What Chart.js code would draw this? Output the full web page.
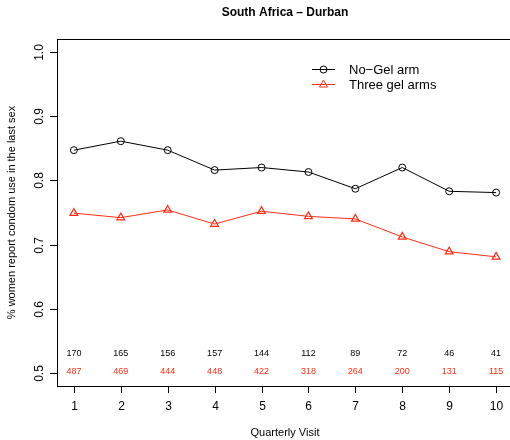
<!DOCTYPE html>
<html>
<head>
<meta charset="utf-8">
<script src="https://cdn.jsdelivr.net/npm/chart.js@4"></script>
<style>
  html, body { margin: 0; padding: 0; background: #fff; overflow: hidden; }
  #wrap { width: 520px; height: 440px; }
</style>
</head>
<body>
<div id="wrap"><canvas id="chart" width="520" height="440"></canvas></div>
<script>
// visits on the x axis
const visits = [1, 2, 3, 4, 5, 6, 7, 8, 9, 10];
// proportion reporting condom use
const noGel = [0.847, 0.861, 0.847, 0.816, 0.820, 0.813, 0.787, 0.820, 0.783, 0.781];
const threeGel = [0.749, 0.742, 0.754, 0.732, 0.752, 0.744, 0.740, 0.712, 0.689, 0.681];
// sample sizes printed near the bottom
const nNoGel = [170, 165, 156, 157, 144, 112, 89, 72, 46, 41];
const nThreeGel = [487, 469, 444, 448, 422, 318, 264, 200, 131, 115];
// axis ticks
const xTicks = [1, 2, 3, 4, 5, 6, 7, 8, 9, 10];
const yTicks = [0.5, 0.6, 0.7, 0.8, 0.9, 1.0];

const RED = 'rgb(255,45,20)';
const FONT = '"Liberation Sans", Arial, sans-serif';

// R-style axes, box, labels, legend and counts
const rAxes = {
  id: 'rAxes',
  afterDraw(chart) {
    const ctx = chart.ctx;
    const a = chart.chartArea;
    const xs = chart.scales.x, ys = chart.scales.y;
    ctx.save();
    ctx.strokeStyle = '#000';
    ctx.lineWidth = 1;
    ctx.strokeRect(Math.round(a.left) + 0.5, Math.round(a.top) + 0.5,
      Math.round(a.right - a.left), Math.round(a.bottom - a.top));

    ctx.fillStyle = '#000';
    // x ticks
    ctx.font = '12px ' + FONT;
    ctx.textAlign = 'center';
    ctx.textBaseline = 'middle';
    xTicks.forEach(v => {
      const px = Math.round(xs.getPixelForValue(v)) + 0.5;
      ctx.beginPath();
      ctx.moveTo(px, a.bottom);
      ctx.lineTo(px, a.bottom + 7);
      ctx.stroke();
      ctx.fillText(String(v), px, a.bottom + 21);
    });
    // y ticks, labels rotated like R
    yTicks.forEach(v => {
      const py = Math.round(ys.getPixelForValue(v)) + 0.5;
      ctx.beginPath();
      ctx.moveTo(a.left, py);
      ctx.lineTo(a.left - 7, py);
      ctx.stroke();
      ctx.save();
      ctx.translate(a.left - 17, py);
      ctx.rotate(-Math.PI / 2);
      ctx.fillText(v.toFixed(1), 0, 0);
      ctx.restore();
    });

    // axis titles
    ctx.font = '11px ' + FONT;
    ctx.fillText('Quarterly Visit', (a.left + a.right) / 2, 433);
    ctx.save();
    ctx.translate(12, (a.top + a.bottom) / 2);
    ctx.rotate(-Math.PI / 2);
    ctx.fillText('% women report condom use in the last sex', 0, 0);
    ctx.restore();

    // main title
    ctx.font = 'bold 12px ' + FONT;
    ctx.fillText('South Africa \u2013 Durban', (a.left + a.right) / 2, 13);

    // counts
    ctx.font = '9px ' + FONT;
    visits.forEach((v, i) => {
      const px = xs.getPixelForValue(v);
      ctx.fillStyle = '#000';
      ctx.fillText(String(nNoGel[i]), px, ys.getPixelForValue(0.530));
      ctx.fillStyle = RED;
      ctx.fillText(String(nThreeGel[i]), px, ys.getPixelForValue(0.502));
    });

    // legend
    ctx.font = '13px ' + FONT;
    ctx.textAlign = 'left';
    const rows = [
      { label: 'No\u2212Gel arm', color: '#000', y: 69, shape: 'circle' },
      { label: 'Three gel arms', color: RED, y: 84, shape: 'triangle' }
    ];
    rows.forEach(r => {
      ctx.strokeStyle = r.color;
      ctx.beginPath();
      ctx.moveTo(312, r.y + 0.5);
      ctx.lineTo(335, r.y + 0.5);
      ctx.stroke();
      ctx.beginPath();
      if (r.shape === 'circle') {
        ctx.arc(323.5, r.y + 0.5, 3.5, 0, Math.PI * 2);
      } else {
        ctx.moveTo(323.5, r.y - 4);
        ctx.lineTo(327.5, r.y + 3);
        ctx.lineTo(319.5, r.y + 3);
        ctx.closePath();
      }
      ctx.stroke();
      ctx.fillStyle = '#000';
      ctx.fillText(r.label, 349, r.y + 1);
    });
    ctx.restore();
  }
};

new Chart(document.getElementById('chart'), {
  type: 'line',
  data: {
    labels: visits,
    datasets: [
      {
        label: 'No-Gel arm',
        data: visits.map((v, i) => ({ x: v, y: noGel[i] })),
        borderColor: '#000',
        borderWidth: 1,
        pointStyle: 'circle',
        pointRadius: 3.5,
        pointBorderWidth: 1,
        pointBorderColor: '#000',
        pointBackgroundColor: 'rgba(0,0,0,0)',
        tension: 0
      },
      {
        label: 'Three gel arms',
        data: visits.map((v, i) => ({ x: v, y: threeGel[i] })),
        borderColor: RED,
        borderWidth: 1,
        pointStyle: 'triangle',
        pointRadius: 4.5,
        pointBorderWidth: 1.2,
        pointBorderColor: RED,
        pointBackgroundColor: 'rgba(0,0,0,0)',
        tension: 0
      }
    ]
  },
  options: {
    responsive: false,
    animation: false,
    layout: { padding: { left: 57, top: 39, right: 7, bottom: 54 } },
    plugins: { legend: { display: false }, tooltip: { enabled: false } },
    scales: {
      x: { type: 'linear', display: false, min: 0.64, max: 10.36 },
      y: { type: 'linear', display: false, min: 0.48, max: 1.02 }
    }
  },
  plugins: [rAxes]
});
</script>
</body>
</html>
